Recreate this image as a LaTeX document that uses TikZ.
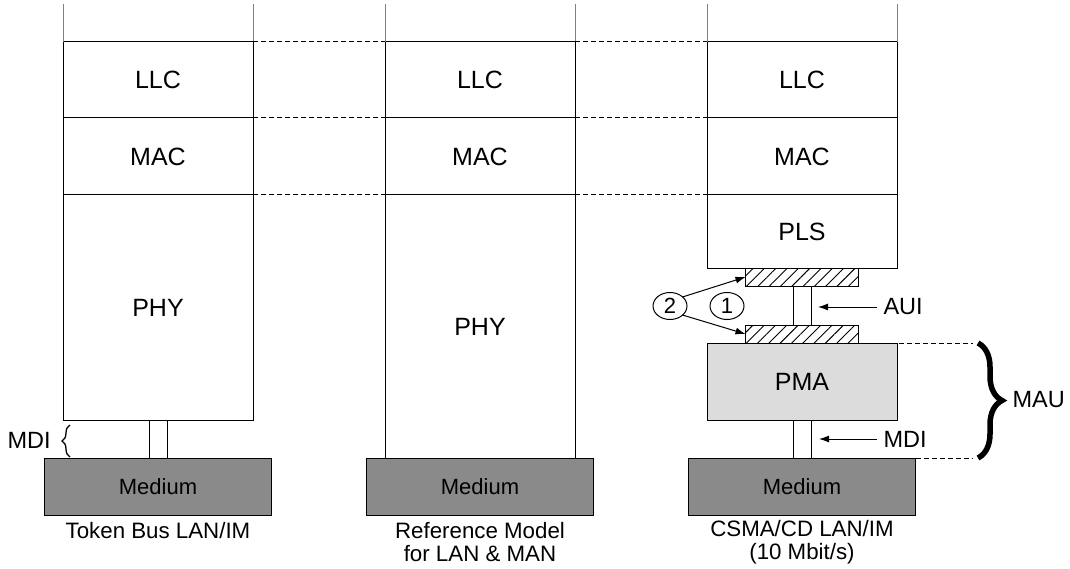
\documentclass[tikz,border=0pt]{standalone}
\usepackage{fontspec}
\setmainfont{Liberation Sans}
\usetikzlibrary{positioning, shapes.geometric, patterns.meta, decorations.pathreplacing, arrows.meta}
\definecolor{mediumgray}{RGB}{138,138,138}
\definecolor{pmagray}{RGB}{220,220,220}
\definecolor{topgray}{RGB}{128,128,128}
\tikzset{layer node/.style={rectangle, draw, outer sep=0pt, inner sep=0pt, minimum width=190pt, font=\fontsize{25}{28}\selectfont},
    medium node/.style={rectangle, draw, fill=mediumgray, outer sep=0pt, minimum width=227pt, minimum height=57pt, font=\fontsize{22}{24}\selectfont},
    hatch node/.style={rectangle, draw, outer sep=0pt, minimum width=113pt, minimum height=18pt, pattern={Lines[angle=45, distance=8pt, line width=0.9pt]}},
    num node/.style={ellipse, draw, inner sep=0pt, minimum width=34pt, minimum height=27pt, font=\fontsize{22}{24}\selectfont},
    label node/.style={align=center, font=\fontsize{22.3}{23}\selectfont},
    side node/.style={anchor=west, inner sep=0pt, font=\fontsize{23.5}{25}\selectfont},}

\begin{document}
\begin{tikzpicture}[x=1pt, y=-1pt, line width=1pt]
        \useasboundingbox (0,0) rectangle (1070,569);
        % Nodes
        \node[layer node, minimum height=76pt] (LLC1) at (158,80) {LLC};
        \node[layer node, minimum height=77pt] [below = 0pt of LLC1] (MAC1) {MAC};
        \node[layer node, minimum height=225pt] [below = 0pt of MAC1] (PHY1) {PHY};
        \node[medium node] [below = 38pt of PHY1] (M1) {Medium};
        \node[layer node, minimum height=76pt] (LLC2) at (480,80) {LLC};
        \node[layer node, minimum height=77pt] [below = 0pt of LLC2] (MAC2) {MAC};
        \node[layer node, minimum height=263pt] [below = 0pt of MAC2] (PHY2) {PHY};
        \node[medium node] [below = 0pt of PHY2] (M2) {Medium};
        \node[layer node, minimum height=76pt] (LLC3) at (802,80) {LLC};
        \node[layer node, minimum height=77pt] [below = 0pt of LLC3] (MAC3) {MAC};
        \node[layer node, minimum height=73pt] [below = 0pt of MAC3] (PLS3) {PLS};
        \node[hatch node] [below = 0pt of PLS3] (AUIa) {};
        \node[hatch node] (AUIb) at (802,334) {};
        \node[layer node, fill=pmagray, minimum height=77pt] [below = 0pt of AUIb] (PMA) {PMA};
        \node[medium node] [below = 38pt of PMA] (M3) {Medium};
        \node[label node] (L1) at (158,531) {Token Bus LAN/IM};
        \node[label node] (L2) at (480,542) {Reference Model\\for LAN \& MAN};
        \node[label node] (L3) at (802,542) {CSMA/CD LAN/IM\\(10 Mbit/s)};
        \node[num node] (two) at (670,306) {2};
        \node[num node] (one) at (727,306) {1};
        \node[side node] (AUI) at (883,307) {AUI};
        \node[side node] (MDI3) at (883,439) {MDI};
        \node[side node] (MDI1) at (7,440) {MDI};
        \node[side node] (MAU) at (1012,400) {MAU};
        \coordinate (auitip) at (818,307);
        \coordinate (mditip) at (819,439);
        \coordinate (mautop) at (973,343);
        \coordinate (maubot) at (973,458);
        % Paths
        \foreach \c in {LLC1, LLC2, LLC3} {
            \draw[topgray] (\c.north west) -- ++(0,-38);
            \draw[topgray] (\c.north east) -- ++(0,-38);
        }
        \draw[dash pattern=on 5pt off 3pt]
        (LLC1.north east) -- (LLC2.north west)
        (MAC1.north east) -- (MAC2.north west)
        (PHY1.north east) -- (PHY2.north west)
        (LLC2.north east) -- (LLC3.north west)
        (MAC2.north east) -- (MAC3.north west)
        (PHY2.north east) -- (PLS3.north west)
        (AUIb.south east) -- (mautop)
        (M3.north east) -- (maubot);
        \draw ([xshift=-9pt]PHY1.south) -- ([xshift=-9pt]PHY1.south |- M1.north)
              ([xshift=9pt]PHY1.south) -- ([xshift=9pt]PHY1.south |- M1.north);
        \draw ([xshift=-9pt]AUIa.south) -- ([xshift=-9pt]AUIb.north)
              ([xshift=9pt]AUIa.south) -- ([xshift=9pt]AUIb.north);
        \draw ([xshift=-9pt]PMA.south) -- ([xshift=-9pt]PMA.south |- M3.north)
              ([xshift=9pt]PMA.south) -- ([xshift=9pt]PMA.south |- M3.north);
        \draw[-{Latex[length=10pt, width=7pt]}] ([xshift=-6pt]AUI.west) -- (auitip);
        \draw[-{Latex[length=10pt, width=7pt]}] ([xshift=-6pt]MDI3.west) -- (mditip);
        \draw[-{Latex[length=10pt, width=7pt]}] (two.35) -- (AUIa.west);
        \draw[-{Latex[length=10pt, width=7pt]}] (two.-35) -- (AUIb.west);
        \draw[line width=1.3pt, decorate, decoration={brace, amplitude=8pt}] (70,457) -- (70,425);
        \draw[line width=5.5pt, decorate, decoration={brace, amplitude=24pt}] ([xshift=5pt]mautop) -- ([xshift=5pt]maubot);
    \end{tikzpicture}
\end{document}
